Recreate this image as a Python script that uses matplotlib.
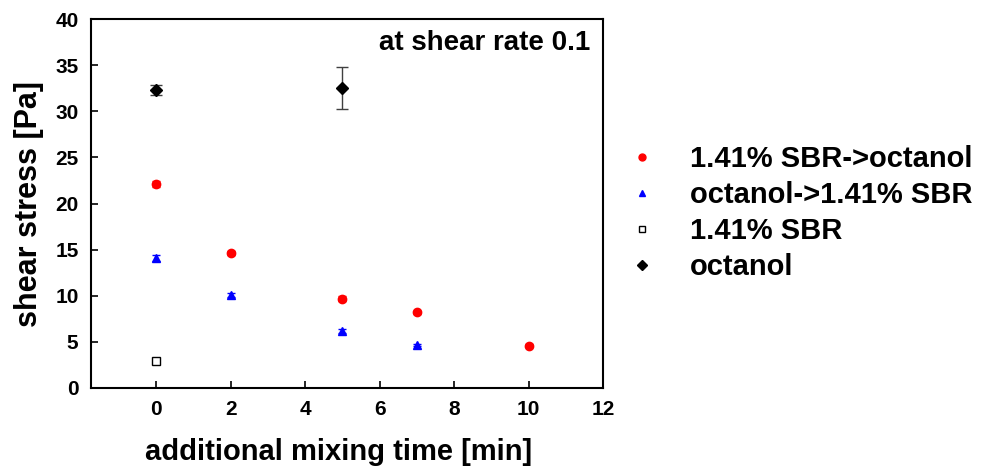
import matplotlib.pyplot as plt
from matplotlib.lines import Line2D

plt.rcParams['font.family'] = ['Liberation Sans', 'DejaVu Sans']
plt.rcParams['font.weight'] = 'bold'

# data
x_sbr_oct = [0, 2, 5, 7, 10]
y_sbr_oct = [22.1, 14.6, 9.7, 8.2, 4.6]
e_sbr_oct = [0.3, 0.2, 0.3, 0.2, 0.2]

x_oct_sbr = [0, 2, 5, 7]
y_oct_sbr = [14.1, 10.1, 6.2, 4.7]
e_oct_sbr = [0.3, 0.2, 0.2, 0.1]

x_sbr = [0]
y_sbr = [2.9]
e_sbr = [0.3]

x_oct = [0, 5]
y_oct = [32.3, 32.5]
e_oct = [0.5, 2.3]

labels = ['1.41% SBR->octanol', 'octanol->1.41% SBR', '1.41% SBR', 'octanol']

fig = plt.figure(figsize=(9.84, 4.7), dpi=100)
ax = fig.add_axes([0.0925, 0.1745, 0.5205, 0.785])

ax.errorbar(x_sbr_oct, y_sbr_oct, yerr=e_sbr_oct, fmt='o', color='red', ms=6,
            ecolor='red', elinewidth=1, capsize=3)
ax.errorbar(x_oct_sbr, y_oct_sbr, yerr=e_oct_sbr, fmt='^', color='blue', ms=6,
            ecolor='blue', elinewidth=1, capsize=3)
ax.errorbar(x_sbr, y_sbr, yerr=e_sbr, fmt='s', mfc='white', mec='black', ms=6,
            ecolor='black', elinewidth=1, capsize=3)
ax.errorbar(x_oct, y_oct, yerr=e_oct, fmt='D', color='black', ms=6,
            ecolor='#404040', elinewidth=1, capsize=4)

ax.set_xlim(-1.75, 12)
ax.set_ylim(0, 40)
ax.set_xticks(range(0, 13, 2))
ax.set_yticks(range(0, 41, 5))
ax.tick_params(direction='in', length=5, width=1.2, labelsize=15, pad=9)
for s in ax.spines.values():
    s.set_linewidth(1.5)

ax.set_xlabel('additional mixing time [min]', fontsize=21, fontweight='bold')
ax.xaxis.set_label_coords(0.483, -0.135)
ax.set_ylabel('shear stress [Pa]', fontsize=22, fontweight='bold', labelpad=8)
ax.text(0.975, 0.935, 'at shear rate 0.1', transform=ax.transAxes, ha='right', va='center',
        fontsize=20, fontweight='bold')

handles = [
    Line2D([], [], ls='none', marker='o', color='red', ms=5),
    Line2D([], [], ls='none', marker='^', color='blue', ms=5),
    Line2D([], [], ls='none', marker='s', mfc='white', mec='black', ms=5),
    Line2D([], [], ls='none', marker='D', color='black', ms=5),
]
fig.legend(handles, labels, loc='center left', bbox_to_anchor=(0.63, 0.547), frameon=False,
           prop={'size': 21, 'weight': 'bold'}, handletextpad=0.9, handlelength=1.5,
           labelspacing=0.27, borderpad=0, borderaxespad=0)

fig.savefig('out.png', dpi=100)
